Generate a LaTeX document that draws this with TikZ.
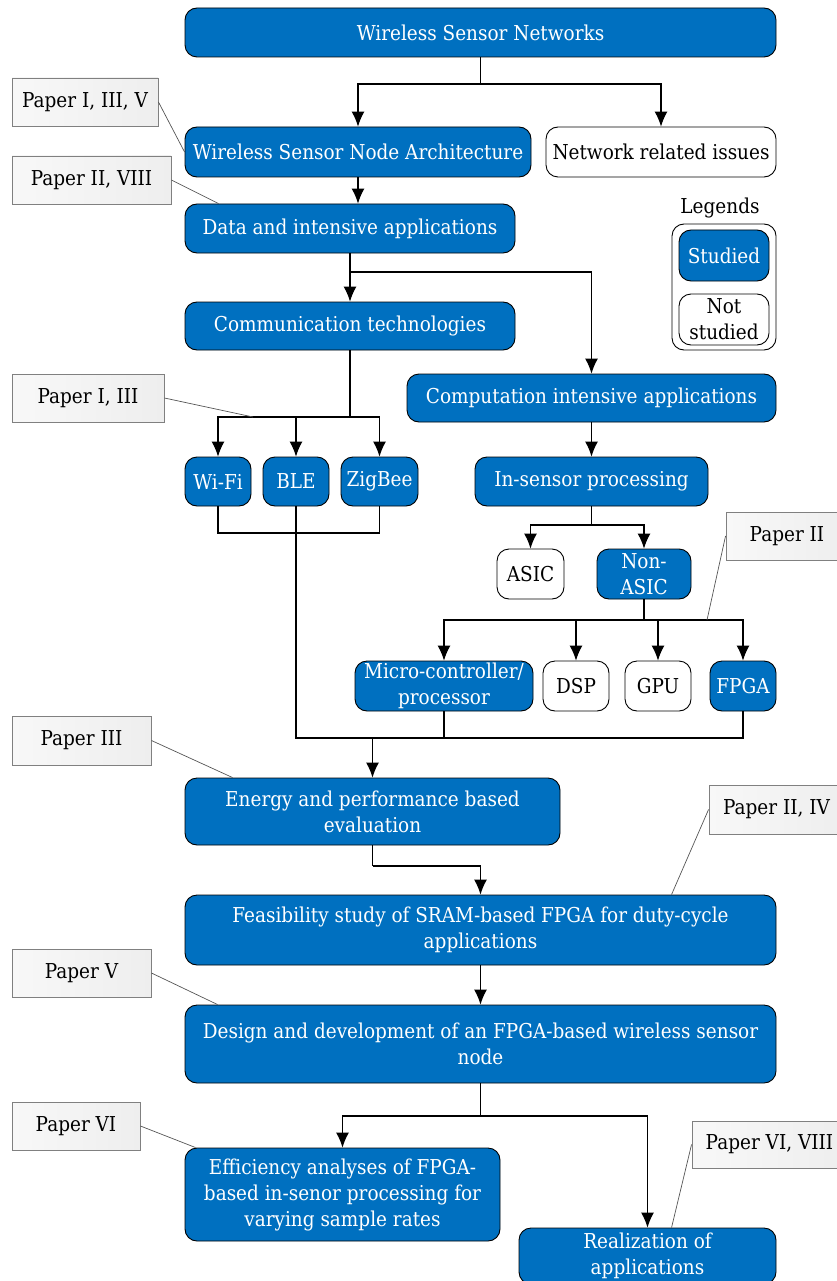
\documentclass[tikz,border=0pt]{standalone}
\usepackage{fontspec}
\setmainfont[FakeStretch=0.9]{DejaVu Serif}
\usetikzlibrary{arrows.meta,calc}
\definecolor{studblue}{HTML}{0070C0}
\definecolor{tagedge}{HTML}{808080}
\definecolor{tagleft}{HTML}{F8F8F8}
\definecolor{tagright}{HTML}{EEEEEE}
\definecolor{tagwire}{HTML}{555555}
\begin{document}
\begin{tikzpicture}[x=1pt,y=-1pt,
  box/.style={draw=black, line width=0.9pt, rounded corners=12pt, inner sep=0pt,
    align=center, font=\fontsize{20.5}{26}\selectfont},
  stud/.style={box, fill=studblue, text=white},
  nstud/.style={box, fill=white, text=black},
  tag/.style={draw=tagedge, line width=0.9pt, left color=tagleft, right color=tagright,
    inner sep=0pt, font=\fontsize{20.5}{26}\selectfont},
  wire/.style={line width=1.2pt},
  flow/.style={wire, -{Latex[length=15pt,width=13pt]}},
  tagline/.style={draw=tagwire, line width=0.7pt},
]
\useasboundingbox (0,0) rectangle (837,1281);

% ---- main flow boxes ----
\node[stud, minimum width=591pt, minimum height=49pt] (wsn) at (480.5,32.5) {Wireless Sensor Networks};
\node[stud, minimum width=346pt, minimum height=50pt] (wsna) at (358,152) {Wireless Sensor Node Architecture};
\node[nstud, minimum width=230pt, minimum height=50pt] (nri) at (661,152) {Network related issues};
\node[stud, minimum width=330pt, minimum height=49pt] (data) at (350,228.5) {Data and intensive applications};
\node[stud, minimum width=330pt, minimum height=48pt] (comm) at (350,326) {Communication technologies};
\node[stud, minimum width=369pt, minimum height=48pt] (comp) at (591.5,398) {Computation intensive applications};
\node[stud, minimum width=66pt, minimum height=49pt] (wifi) at (218,481.5) {Wi-Fi};
\node[stud, minimum width=66pt, minimum height=49pt] (ble) at (296,481.5) {BLE};
\node[stud, minimum width=77pt, minimum height=49pt] (zig) at (379.5,481.5) {ZigBee};
\node[stud, minimum width=233pt, minimum height=49pt] (insens) at (591.5,481.5) {In-sensor processing};
\node[nstud, minimum width=67pt, minimum height=50pt] (asic) at (530.5,574) {ASIC};
\node[stud, minimum width=94pt, minimum height=50pt] (nonasic) at (644,574) {Non-\\ASIC};
\node[stud, minimum width=178pt, minimum height=50pt] (micro) at (444,686) {Micro-controller/\\processor};
\node[nstud, minimum width=66pt, minimum height=50pt] (dsp) at (576,686) {DSP};
\node[nstud, minimum width=66pt, minimum height=50pt] (gpu) at (658,686) {GPU};
\node[stud, minimum width=66pt, minimum height=50pt] (fpga) at (743,686) {FPGA};
\node[stud, minimum width=375pt, minimum height=67pt] (energy) at (372.5,811.5) {Energy and performance based\\evaluation};
\node[stud, minimum width=591pt, minimum height=70pt] (feas) at (480.5,930) {Feasibility study of SRAM-based FPGA for duty-cycle\\applications};
\node[stud, minimum width=591pt, minimum height=78pt] (design) at (480.5,1044) {Design and development of an FPGA-based wireless sensor\\node};
\node[stud, minimum width=315pt, minimum height=93pt] (eff) at (342.5,1194.5) {Efficiency analyses of FPGA-\\based in-senor processing for\\varying sample rates};
\node[stud, minimum width=257pt, minimum height=56pt] (real) at (647.5,1256) {Realization of\\applications};

% ---- legend ----
\node[font=\fontsize{20.5}{26}\selectfont] (legtitle) at (720,208) {Legends};
\node[draw=black, line width=0.9pt, rounded corners=12pt, minimum width=104pt, minimum height=126pt] (legend) at (724,287) {};
\node[stud, minimum width=90pt, minimum height=51pt] (legstud) at (724,255.5) {Studied};
\node[nstud, minimum width=90pt, minimum height=51pt] (legnot) at (724,319.5) {Not\\studied};

% ---- paper tags ----
\node[tag, minimum width=146pt, minimum height=48pt] (p1) at (85,102) {Paper I, III, V};
\node[tag, minimum width=159pt, minimum height=48pt] (p2) at (91.5,180) {Paper II, VIII};
\node[tag, minimum width=152pt, minimum height=48pt] (p3) at (88,398) {Paper I, III};
\node[tag, minimum width=122pt, minimum height=48pt] (p4) at (787,536) {Paper II};
\node[tag, minimum width=139pt, minimum height=49pt] (p5) at (81.5,740.5) {Paper III};
\node[tag, minimum width=135pt, minimum height=49pt] (p6) at (776.5,809.5) {Paper II, IV};
\node[tag, minimum width=139pt, minimum height=48pt] (p7) at (81.5,973) {Paper V};
\node[tag, minimum width=128pt, minimum height=48pt] (p8) at (76,1126) {Paper VI};
\node[tag, minimum width=155pt, minimum height=47pt] (p9) at (769.5,1144.5) {Paper VI, VIII};

% ---- junction points ----
\coordinate (j1) at (480.5,84);
\coordinate (j2) at (350,272);
\coordinate (j3) at (350,417);
\coordinate (j4) at (379.5,533);
\coordinate (j5) at (591.5,525);
\coordinate (j6) at (644,620);
\coordinate (j7) at (372.5,738);
\coordinate (j8) at (372.5,866);
\coordinate (j9) at (480.5,1116);
\coordinate (t3) at (253,417);
\coordinate (t4) at (707,620);

% ---- connectors ----
\draw[wire] (wsn.south) -- (j1);
\draw[flow] (j1) -| (wsna.north);
\draw[flow] (j1) -| (nri.north);
\draw[flow] (wsna.south) -- (wsna.south |- data.north);
\draw[wire] (data.south) -- (j2);
\draw[flow] (j2) -- (comm.north);
\draw[flow] (j2) -| (comp.north);
\draw[wire] (comm.south) -- (j3);
\draw[flow] (j3) -| (wifi.north);
\draw[flow] (j3) -| (zig.north);
\draw[flow] (ble.north |- j3) -- (ble.north);
\draw[wire] (wifi.south) |- (j4) -- (zig.south);
\draw[flow] (comp.south) -- (insens.north);
\draw[wire] (insens.south) -- (j5);
\draw[flow] (j5) -| (asic.north);
\draw[flow] (j5) -| (nonasic.north);
\draw[wire] (nonasic.south) -- (j6);
\draw[flow] (j6) -| (micro.north);
\draw[flow] (j6) -| (fpga.north);
\draw[flow] (dsp.north |- j6) -- (dsp.north);
\draw[flow] (gpu.north |- j6) -- (gpu.north);
\draw[wire] (ble.south) |- (j7) -| (fpga.south);
\draw[wire] (micro.south) -- (micro.south |- j7);
\draw[flow] (j7) -- (energy.north);
\draw[wire] (energy.south) -- (j8);
\draw[flow] (j8) -| (feas.north);
\draw[flow] (feas.south) -- (design.north);
\draw[wire] (design.south) -- (j9);
\draw[flow] (j9) -| (eff.north);
\draw[flow] (j9) -| (real.north);

% ---- tag leaders ----
\draw[tagline] (p1.east) -- (wsna.west);
\draw[tagline] (p2.east) -- ($(data.north west)+(34,0)$);
\draw[tagline] (p3.east) -- (t3);
\draw[tagline] (p4.west) -- (t4);
\draw[tagline] (p5.east) -- ($(energy.north west)+(48,0)$);
\draw[tagline] (p6.west) -- ($(feas.north west)+(487,0)$);
\draw[tagline] (p7.east) -- ($(design.north west)+(33,0)$);
\draw[tagline] (p8.east) -- ($(eff.north west)+(11,0)$);
\draw[tagline] (p9.west) -- ($(real.north west)+(153,0)$);
\end{tikzpicture}
\end{document}
